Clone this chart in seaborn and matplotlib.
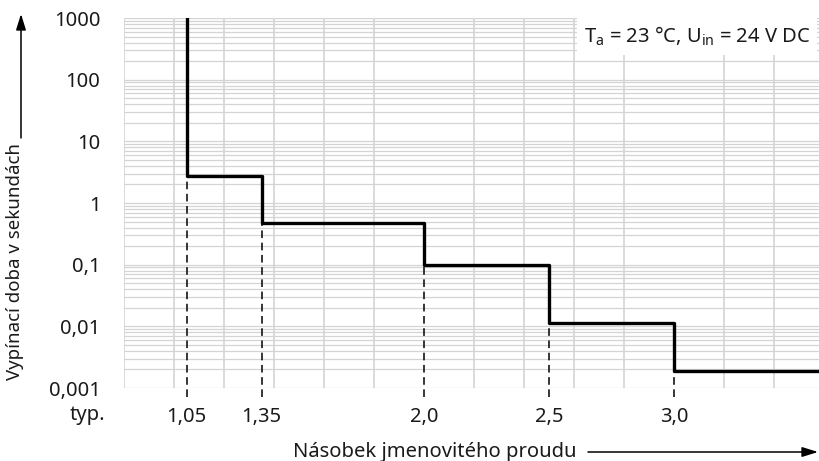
import numpy as np
import matplotlib
matplotlib.use("Agg")
import matplotlib.pyplot as plt
from matplotlib.ticker import FixedLocator, MultipleLocator, LogLocator, NullFormatter
import seaborn as sns

# step points of the trip curve
current_multiple = [1.05, 1.35, 2.0, 2.5, 3.0]
trip_time_s = [2.7, 0.48, 0.1, 0.0115, 0.0019]
x_tick_labels = ["1,05", "1,35", "2,0", "2,5", "3,0"]

y_ticks = [0.001, 0.01, 0.1, 1, 10, 100, 1000]
y_tick_labels = ["0,001", "0,01", "0,1", "1", "10", "100", "1000"]

X_MIN, X_MAX = 0.8, 3.584
Y_MIN, Y_MAX = 0.001, 1000

sns.set_theme(style="white")
plt.rcParams["font.family"] = ["Noto Sans", "DejaVu Sans"]
plt.rcParams["mathtext.fontset"] = "custom"
plt.rcParams["mathtext.rm"] = "Noto Sans"

FS = 14.5
INK = "#1a1a1a"
GRID = "#d4d4d4"

fig = plt.figure(figsize=(8.2, 4.61), dpi=100)
ax = fig.add_axes([124 / 820, 1 - 388 / 461, 1 - 124 / 820, (388 - 18) / 461])

# curve: vertical drop from the top at the first step, then steps down
xs = [current_multiple[0]] + current_multiple + [X_MAX]
ys = [Y_MAX] + trip_time_s + [trip_time_s[-1]]
sns.lineplot(x=xs, y=ys, ax=ax, sort=False, estimator=None,
             drawstyle="steps-post", color="black", linewidth=2.4, zorder=5)

# dashed drop lines below each step
ax.vlines(current_multiple, 10 ** -3.15, trip_time_s, colors="black",
          linestyles=(0, (5, 3)), linewidth=1.1, clip_on=False, zorder=4)

ax.set_yscale("log")
ax.set_xlim(X_MIN, X_MAX)
ax.set_ylim(Y_MIN, Y_MAX)

ax.xaxis.set_major_locator(FixedLocator(current_multiple))
ax.set_xticklabels(x_tick_labels)
ax.xaxis.set_minor_locator(MultipleLocator(0.2))
ax.yaxis.set_major_locator(FixedLocator(y_ticks))
ax.set_yticklabels(y_tick_labels)
ax.yaxis.set_minor_locator(LogLocator(base=10, subs=np.arange(2, 10)))
ax.yaxis.set_minor_formatter(NullFormatter())

ax.tick_params(axis="both", which="both", length=0, labelsize=FS, colors=INK)
ax.tick_params(axis="x", pad=14)
ax.tick_params(axis="y", pad=17)

ax.grid(False)
ax.xaxis.grid(True, which="minor", color=GRID, linewidth=1.2)
ax.yaxis.grid(True, which="both", color=GRID, linewidth=0.9)
ax.set_axisbelow(True)
for s in ax.spines.values():
    s.set_visible(False)

ax.annotate("typ.", xy=(0, 0), xycoords="axes fraction", xytext=(-13.7, -19.5),
            textcoords="offset points", ha="right", va="center", fontsize=FS,
            color=INK)

ax.text(0.986, 0.951, r"T$_\mathrm{a}$ = 23 °C, U$_\mathrm{in}$ = 24 V DC",
        transform=ax.transAxes, ha="right", va="center", fontsize=FS,
        color=INK, zorder=6,
        bbox=dict(boxstyle="square,pad=0.35", facecolor="white", edgecolor="none"))

# axis titles with arrows
fig.text(435 / 820, 1 - 452 / 461, "Násobek jmenovitého proudu", ha="center",
         va="center", fontsize=FS, color=INK)
fig.text(15 / 820, 1 - 261 / 461, "Vypínací doba v sekundách", ha="center",
         va="center", rotation=90, fontsize=13.4, color=INK)

arrow = dict(arrowstyle="-|>,head_length=0.8,head_width=0.25", color="black", lw=1.1,
             shrinkA=0, shrinkB=0)
ax.annotate("", xy=(818 / 820, 1 - 452 / 461), xycoords="figure fraction",
            xytext=(588 / 820, 1 - 452 / 461), textcoords="figure fraction",
            arrowprops=arrow)
ax.annotate("", xy=(21 / 820, 1 - 14 / 461), xycoords="figure fraction",
            xytext=(21 / 820, 1 - 138 / 461), textcoords="figure fraction",
            arrowprops=arrow)

fig.savefig("out.png", dpi=100)
